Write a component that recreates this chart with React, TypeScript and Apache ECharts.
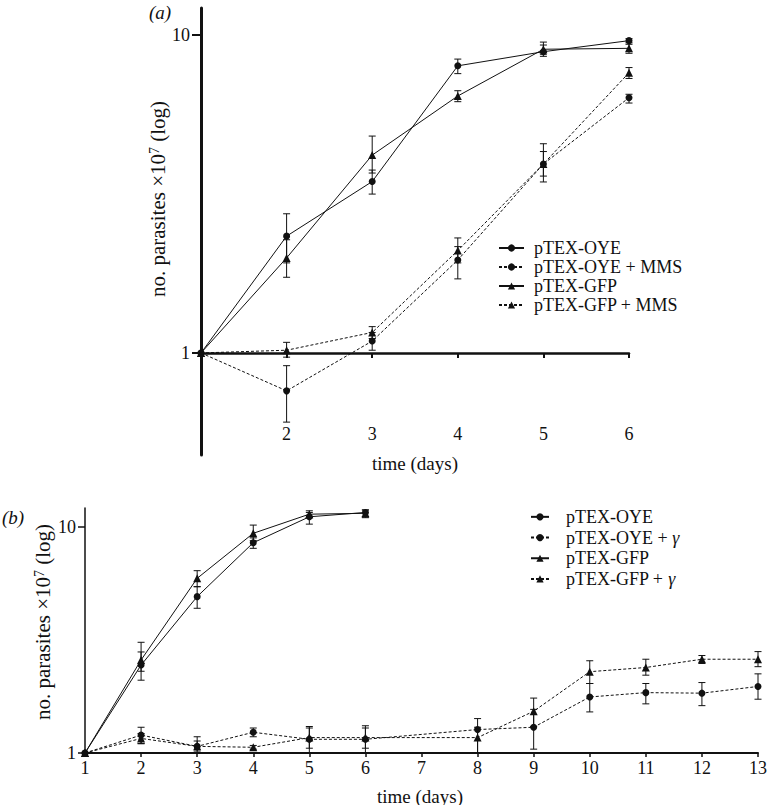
import React, { useEffect, useRef } from 'react';
import * as echarts from 'echarts';

const FONT = "'Liberation Serif', 'Times New Roman', serif";
const INK = '#111';

// ---------- Panel (a) ----------
const daysA = [1, 2, 3, 4, 5, 6];
const oyeA = [1, 2.33, 3.46, 8.0, 8.86, 9.6];
const oyeALo = [null, 1.92, 3.16, 7.56, 8.57, 9.45];
const oyeAHi = [null, 2.74, 3.76, 8.4, 9.3, 9.74];
const oyeMmsA = [1, 0.76, 1.09, 1.96, 3.93, 6.35];
const oyeMmsALo = [null, 0.606, 1.02, 1.71, 3.45, 6.11];
const oyeMmsAHi = [null, 0.912, 1.16, 2.16, 4.55, 6.51];
const gfpA = [1, 1.99, 4.19, 6.43, 9.02, 9.08];
const gfpALo = [null, 1.73, 3.68, 6.17, 8.7, 8.76];
const gfpAHi = [null, 2.27, 4.81, 6.68, 9.5, 9.35];
const gfpMmsA = [1, 1.02, 1.16, 2.1, 3.93, 7.61];
const gfpMmsALo = [null, 0.97, 1.11, 1.92, 3.6, 7.3];
const gfpMmsAHi = [null, 1.08, 1.21, 2.3, 4.3, 7.9];
const legendA = ['pTEX-OYE', 'pTEX-OYE + MMS', 'pTEX-GFP', 'pTEX-GFP + MMS'];
const xTicksA = [2, 3, 4, 5, 6];
const yTicks = [1, 10];

// ---------- Panel (b) ----------
const daysBSolid = [1, 2, 3, 4, 5, 6];
const oyeB = [1, 2.45, 4.92, 8.52, 11.1, 11.6];
const oyeBLo = [null, 2.1, 4.37, 8.05, 10.3, 11.0];
const oyeBHi = [null, 2.8, 5.44, 8.95, 11.6, 11.9];
const gfpB = [1, 2.58, 5.93, 9.38, 11.4, 11.5];
const gfpBLo = [null, 2.3, 5.45, 8.7, 11.0, 11.1];
const gfpBHi = [null, 3.09, 6.41, 10.2, 11.8, 11.9];
const daysBDashed = [1, 2, 3, 4, 5, 6, 8, 9, 10, 11, 12, 13];
const oyeGB = [1, 1.2, 1.07, 1.235, 1.15, 1.15, 1.27, 1.3, 1.77, 1.85, 1.84, 1.97];
const oyeGBLo = [null, 1.1, 1.0, 1.18, 1.0, 1.0, 1.0, 1.04, 1.52, 1.65, 1.62, 1.73];
const oyeGBHi = [null, 1.3, 1.13, 1.29, 1.31, 1.32, 1.42, 1.56, 2.03, 2.03, 2.05, 2.24];
const gfpGB = [1, 1.16, 1.07, 1.06, 1.17, 1.17, 1.17, 1.53, 2.29, 2.39, 2.6, 2.6];
const gfpGBLo = [null, 1.1, 1.02, 1.04, 1.05, 1.05, 1.0, 1.31, 2.03, 2.21, 2.49, 2.41];
const gfpGBHi = [null, 1.22, 1.18, 1.08, 1.29, 1.29, 1.3, 1.75, 2.56, 2.6, 2.7, 2.81];
const legendB = ['pTEX-OYE', 'pTEX-OYE + γ', 'pTEX-GFP', 'pTEX-GFP + γ'];

function lineSeries(name: string, xs: number[], ys: number[], symbol: string, dashed: boolean, idx: number) {
  return {
    type: 'line',
    name,
    xAxisIndex: idx,
    yAxisIndex: idx,
    data: xs.map((x, i) => [x, ys[i]]),
    symbol,
    symbolSize: symbol === 'circle' ? 7 : 8,
    lineStyle: { color: INK, width: 1, type: dashed ? [3, 2] : 'solid' },
    itemStyle: { color: INK },
    silent: true,
    z: 3,
  };
}

function errSeries(xs: number[], lo: (number | null)[], hi: (number | null)[], idx: number) {
  const data: number[][] = [];
  xs.forEach((x, i) => {
    if (lo[i] != null && hi[i] != null) data.push([x, lo[i] as number, hi[i] as number]);
  });
  return {
    type: 'custom',
    xAxisIndex: idx,
    yAxisIndex: idx,
    data,
    silent: true,
    z: 2,
    encode: { x: 0, y: [1, 2] },
    renderItem: (_p: any, api: any) => {
      const x = api.value(0);
      const a = api.coord([x, api.value(1)]);
      const b = api.coord([x, api.value(2)]);
      const w = 3.5;
      const st = { stroke: INK, lineWidth: 1 };
      return {
        type: 'group',
        children: [
          { type: 'line', shape: { x1: a[0], y1: a[1], x2: b[0], y2: b[1] }, style: st },
          { type: 'line', shape: { x1: a[0] - w, y1: a[1], x2: a[0] + w, y2: a[1] }, style: st },
          { type: 'line', shape: { x1: b[0] - w, y1: b[1], x2: b[0] + w, y2: b[1] }, style: st },
        ],
      };
    },
  };
}

const yNameRich = {
  s: { fontSize: 14, fontFamily: FONT, fill: INK, verticalAlign: 'top', padding: [0, 0, 8, 0] },
};

export default function App() {
  const ref = useRef<HTMLDivElement>(null);
  useEffect(() => {
    if (!ref.current) return;
    const chart = echarts.init(ref.current, undefined, { renderer: 'svg' });
    const labelStyle = { color: INK, fontFamily: FONT, fontSize: 18 };
    const option: any = {
      animation: false,
      backgroundColor: '#fff',
      grid: [
        { left: 201, top: 8, width: 428, height: 447, outerBoundsMode: 'none', containLabel: false },
        { left: 85, top: 508, width: 673, height: 245, outerBoundsMode: 'none', containLabel: false },
      ],
      xAxis: [
        {
          gridIndex: 0, type: 'value', min: 1, max: 6, interval: 1,
          position: 'bottom', offset: -102,
          axisLine: { show: true, onZero: false, lineStyle: { color: INK, width: 2.5 } },
          axisTick: { show: true, length: 5, customValues: xTicksA, lineStyle: { color: INK, width: 2 } },
          axisLabel: { ...labelStyle, margin: 72, customValues: xTicksA },
          splitLine: { show: false },
        },
        {
          gridIndex: 1, type: 'value', min: 1, max: 13, interval: 1,
          position: 'bottom',
          axisLine: { show: true, onZero: false, lineStyle: { color: INK, width: 2 } },
          axisTick: { show: true, length: 4, lineStyle: { color: INK, width: 1.5 } },
          axisLabel: { ...labelStyle, margin: 6 },
          splitLine: { show: false },
        },
      ],
      yAxis: [
        {
          gridIndex: 0, type: 'log', logBase: 10, min: 0.4776, max: 12.16,
          axisLine: { show: true, onZero: false, lineStyle: { color: INK, width: 3 } },
          axisTick: { show: true, length: 9, customValues: yTicks, lineStyle: { color: INK, width: 2 } },
          axisLabel: { ...labelStyle, margin: 11, customValues: yTicks },
          splitLine: { show: false },
        },
        {
          gridIndex: 1, type: 'log', logBase: 10, min: 1, max: 12.14,
          axisLine: { show: true, onZero: false, lineStyle: { color: INK, width: 1.5 } },
          axisTick: { show: true, length: 7, customValues: yTicks, lineStyle: { color: INK, width: 1.5 } },
          axisLabel: { ...labelStyle, margin: 9, customValues: yTicks },
          splitLine: { show: false },
        },
      ],
      legend: [
        {
          data: legendA, orient: 'vertical', left: 498, top: 238.5, padding: 0, itemGap: 0,
          itemWidth: 25, itemHeight: 9,
          textStyle: { color: INK, fontFamily: FONT, fontSize: 18, lineHeight: 19, padding: [0, 0, 0, 5] },
          selectedMode: false,
        },
        {
          data: legendB, orient: 'vertical', left: 530, top: 506.5, padding: 0, itemGap: 0,
          itemWidth: 18, itemHeight: 9,
          formatter: (n: string) => n.replace('γ', '{g|γ}'),
          textStyle: {
            color: INK, fontFamily: FONT, fontSize: 18, lineHeight: 20.7, padding: [0, 0, 0, 12],
            rich: { g: { fontFamily: FONT, fontSize: 18, fontStyle: 'italic', color: INK, lineHeight: 20.7 } },
          },
          selectedMode: false,
        },
      ],
      graphic: [
        { type: 'text', x: 149, y: 12, style: { text: '(a)', fontFamily: FONT, fontSize: 19, fontStyle: 'italic', fill: INK, verticalAlign: 'middle' } },
        { type: 'text', x: 2, y: 517, style: { text: '(b)', fontFamily: FONT, fontSize: 19, fontStyle: 'italic', fill: INK, verticalAlign: 'middle' } },
        { type: 'text', x: 415, y: 463, style: { text: 'time (days)', fontFamily: FONT, fontSize: 19, fill: INK, align: 'center', verticalAlign: 'middle' } },
        { type: 'text', x: 420, y: 796, style: { text: 'time (days)', fontFamily: FONT, fontSize: 19, fill: INK, align: 'center', verticalAlign: 'middle' } },
        {
          type: 'text', x: 158, y: 199, rotation: Math.PI / 2,
          style: { text: 'no. parasites ×10{s|7} (log)', fontFamily: FONT, fontSize: 21, fill: INK, align: 'center', verticalAlign: 'middle', rich: yNameRich },
        },
        {
          type: 'text', x: 43, y: 622, rotation: Math.PI / 2,
          style: { text: 'no. parasites ×10{s|7} (log)', fontFamily: FONT, fontSize: 21, fill: INK, align: 'center', verticalAlign: 'middle', rich: yNameRich },
        },
      ],
      series: [
        errSeries(daysA, oyeALo, oyeAHi, 0),
        errSeries(daysA, oyeMmsALo, oyeMmsAHi, 0),
        errSeries(daysA, gfpALo, gfpAHi, 0),
        errSeries(daysA, gfpMmsALo, gfpMmsAHi, 0),
        lineSeries('pTEX-OYE', daysA, oyeA, 'circle', false, 0),
        lineSeries('pTEX-OYE + MMS', daysA, oyeMmsA, 'circle', true, 0),
        lineSeries('pTEX-GFP', daysA, gfpA, 'triangle', false, 0),
        lineSeries('pTEX-GFP + MMS', daysA, gfpMmsA, 'triangle', true, 0),
        errSeries(daysBSolid, oyeBLo, oyeBHi, 1),
        errSeries(daysBSolid, gfpBLo, gfpBHi, 1),
        errSeries(daysBDashed, oyeGBLo, oyeGBHi, 1),
        errSeries(daysBDashed, gfpGBLo, gfpGBHi, 1),
        lineSeries('pTEX-OYE', daysBSolid, oyeB, 'circle', false, 1),
        lineSeries('pTEX-OYE + γ', daysBDashed, oyeGB, 'circle', true, 1),
        lineSeries('pTEX-GFP', daysBSolid, gfpB, 'triangle', false, 1),
        lineSeries('pTEX-GFP + γ', daysBDashed, gfpGB, 'triangle', true, 1),
      ],
    };
    chart.setOption(option);
    return () => chart.dispose();
  }, []);
  return <div ref={ref} style={{ position: 'fixed', left: 0, top: 0, width: 767, height: 805, background: '#fff' }} />;
}
